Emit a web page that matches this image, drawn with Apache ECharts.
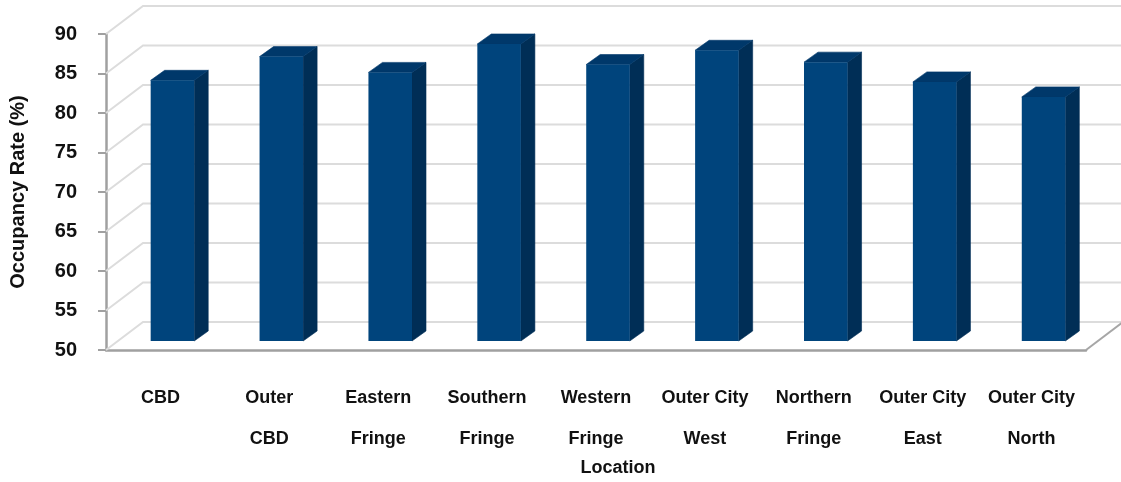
<!DOCTYPE html>
<html>
<head>
<meta charset="utf-8">
<style>html,body{margin:0;padding:0;background:#fff}#c{width:1121px;height:482px}</style>
<script src="https://cdn.jsdelivr.net/npm/echarts@6/dist/echarts.min.js"></script>
</head>
<body>
<div id="c"></div>
<script>
var categories = ['CBD','Outer\nCBD','Eastern\nFringe','Southern\nFringe','Western\nFringe','Outer City\nWest','Northern\nFringe','Outer City\nEast','Outer City\nNorth'];
var occupancy = [83, 86, 84, 87.6, 85, 86.8, 85.3, 82.8, 80.9];
var gridValues = [50,55,60,65,70,75,80,85,90];

var FONT = '"Liberation Sans", Arial, sans-serif';
var WALL = [37, -28], INSET = [12, -9], DEPTH = [14, -10];
var FRONT = '#00447c', SIDE = '#002e56', TOP = '#00386a';
var chart = echarts.init(document.getElementById('c'), null, {renderer:'canvas'});

function renderWall(params, api) {
  var v = api.value(0);
  var a = api.coord([0, v]);
  var s = api.size([1, 0])[0];
  var left = a[0] - s / 2, y = a[1];
  var right = left + s * categories.length;
  var lineStyle = {stroke:'#dcdcdc', lineWidth:2, fill:null};
  var kids = [
    {type:'polyline', shape:{points:[[left,y],[left+WALL[0],y+WALL[1]],[right+WALL[0],y+WALL[1]]]}, style:lineStyle}
  ];
  if (v === gridValues[0]) {
    kids.push({type:'line', shape:{x1:right,y1:y,x2:right+WALL[0],y2:y+WALL[1]}, style:{stroke:'#a6a6a6',lineWidth:2}});
  }
  return {type:'group', children:kids};
}

function renderBar(params, api) {
  var i = api.value(0), v = api.value(1);
  var base = api.coord([i, gridValues[0]]);
  var top = api.coord([i, v]);
  var w = api.size([1, 0])[0] * 0.4;
  var x0 = base[0] - w/2 + INSET[0], x1 = x0 + w;
  var yb = base[1] + INSET[1], yt = top[1] + INSET[1];
  var dx = DEPTH[0], dy = DEPTH[1];
  return {type:'group', children:[
    {type:'polygon', shape:{points:[[x1,yt],[x1+dx,yt+dy],[x1+dx,yb+dy],[x1,yb]]}, style:{fill:SIDE,stroke:SIDE,lineWidth:0.6}},
    {type:'polygon', shape:{points:[[x0,yt],[x0+dx,yt+dy],[x1+dx,yt+dy],[x1,yt]]}, style:{fill:TOP,stroke:TOP,lineWidth:0.6}},
    {type:'rect', shape:{x:x0,y:yt,width:w,height:yb-yt}, style:{fill:FRONT}}
  ]};
}

chart.setOption({
  animation:false,
  backgroundColor:'#fff',
  grid:{left:106,right:35,top:34,bottom:132,containLabel:false,outerBoundsMode:'none'},
  xAxis:{
    type:'category',
    data:categories,
    boundaryGap:true,
    name:'Location',
    nameLocation:'middle',
    nameGap:109,
    nameMoveOverlap:false,
    nameTextStyle:{fontFamily:FONT,fontSize:18,color:'#111',fontWeight:'bold',padding:[0,0,0,44]},
    axisLine:{lineStyle:{color:'#a0a0a0',width:2.5}},
    axisTick:{alignWithLabel:false,length:8,lineStyle:{color:'#a0a0a0',width:2}},
    axisLabel:{interval:0,margin:28,fontFamily:FONT,fontSize:18,fontWeight:'bold',lineHeight:41,color:'#111',verticalAlign:'top'},
    splitLine:{show:false}
  },
  yAxis:{
    type:'value',
    min:50,max:90,interval:5,
    name:'Occupancy Rate (%)',
    nameLocation:'middle',
    nameGap:78,
    nameMoveOverlap:false,
    nameRotate:90,
    nameTextStyle:{fontFamily:FONT,fontSize:20,color:'#111',fontWeight:'bold'},
    axisLine:{show:true,lineStyle:{color:'#a0a0a0',width:2.5}},
    axisTick:{show:true,length:8,lineStyle:{color:'#a0a0a0',width:2}},
    axisLabel:{margin:29,fontFamily:FONT,fontSize:20,fontWeight:'bold',color:'#111'},
    splitLine:{show:false}
  },
  series:[
    {type:'custom',renderItem:renderWall,data:gridValues.map(function(v){return [v];}),encode:{y:0},z:1,silent:true},
    {type:'custom',renderItem:renderBar,data:occupancy.map(function(v,i){return [i,v];}),encode:{x:0,y:1},z:2,silent:true}
  ]
});
</script>
</body>
</html>
